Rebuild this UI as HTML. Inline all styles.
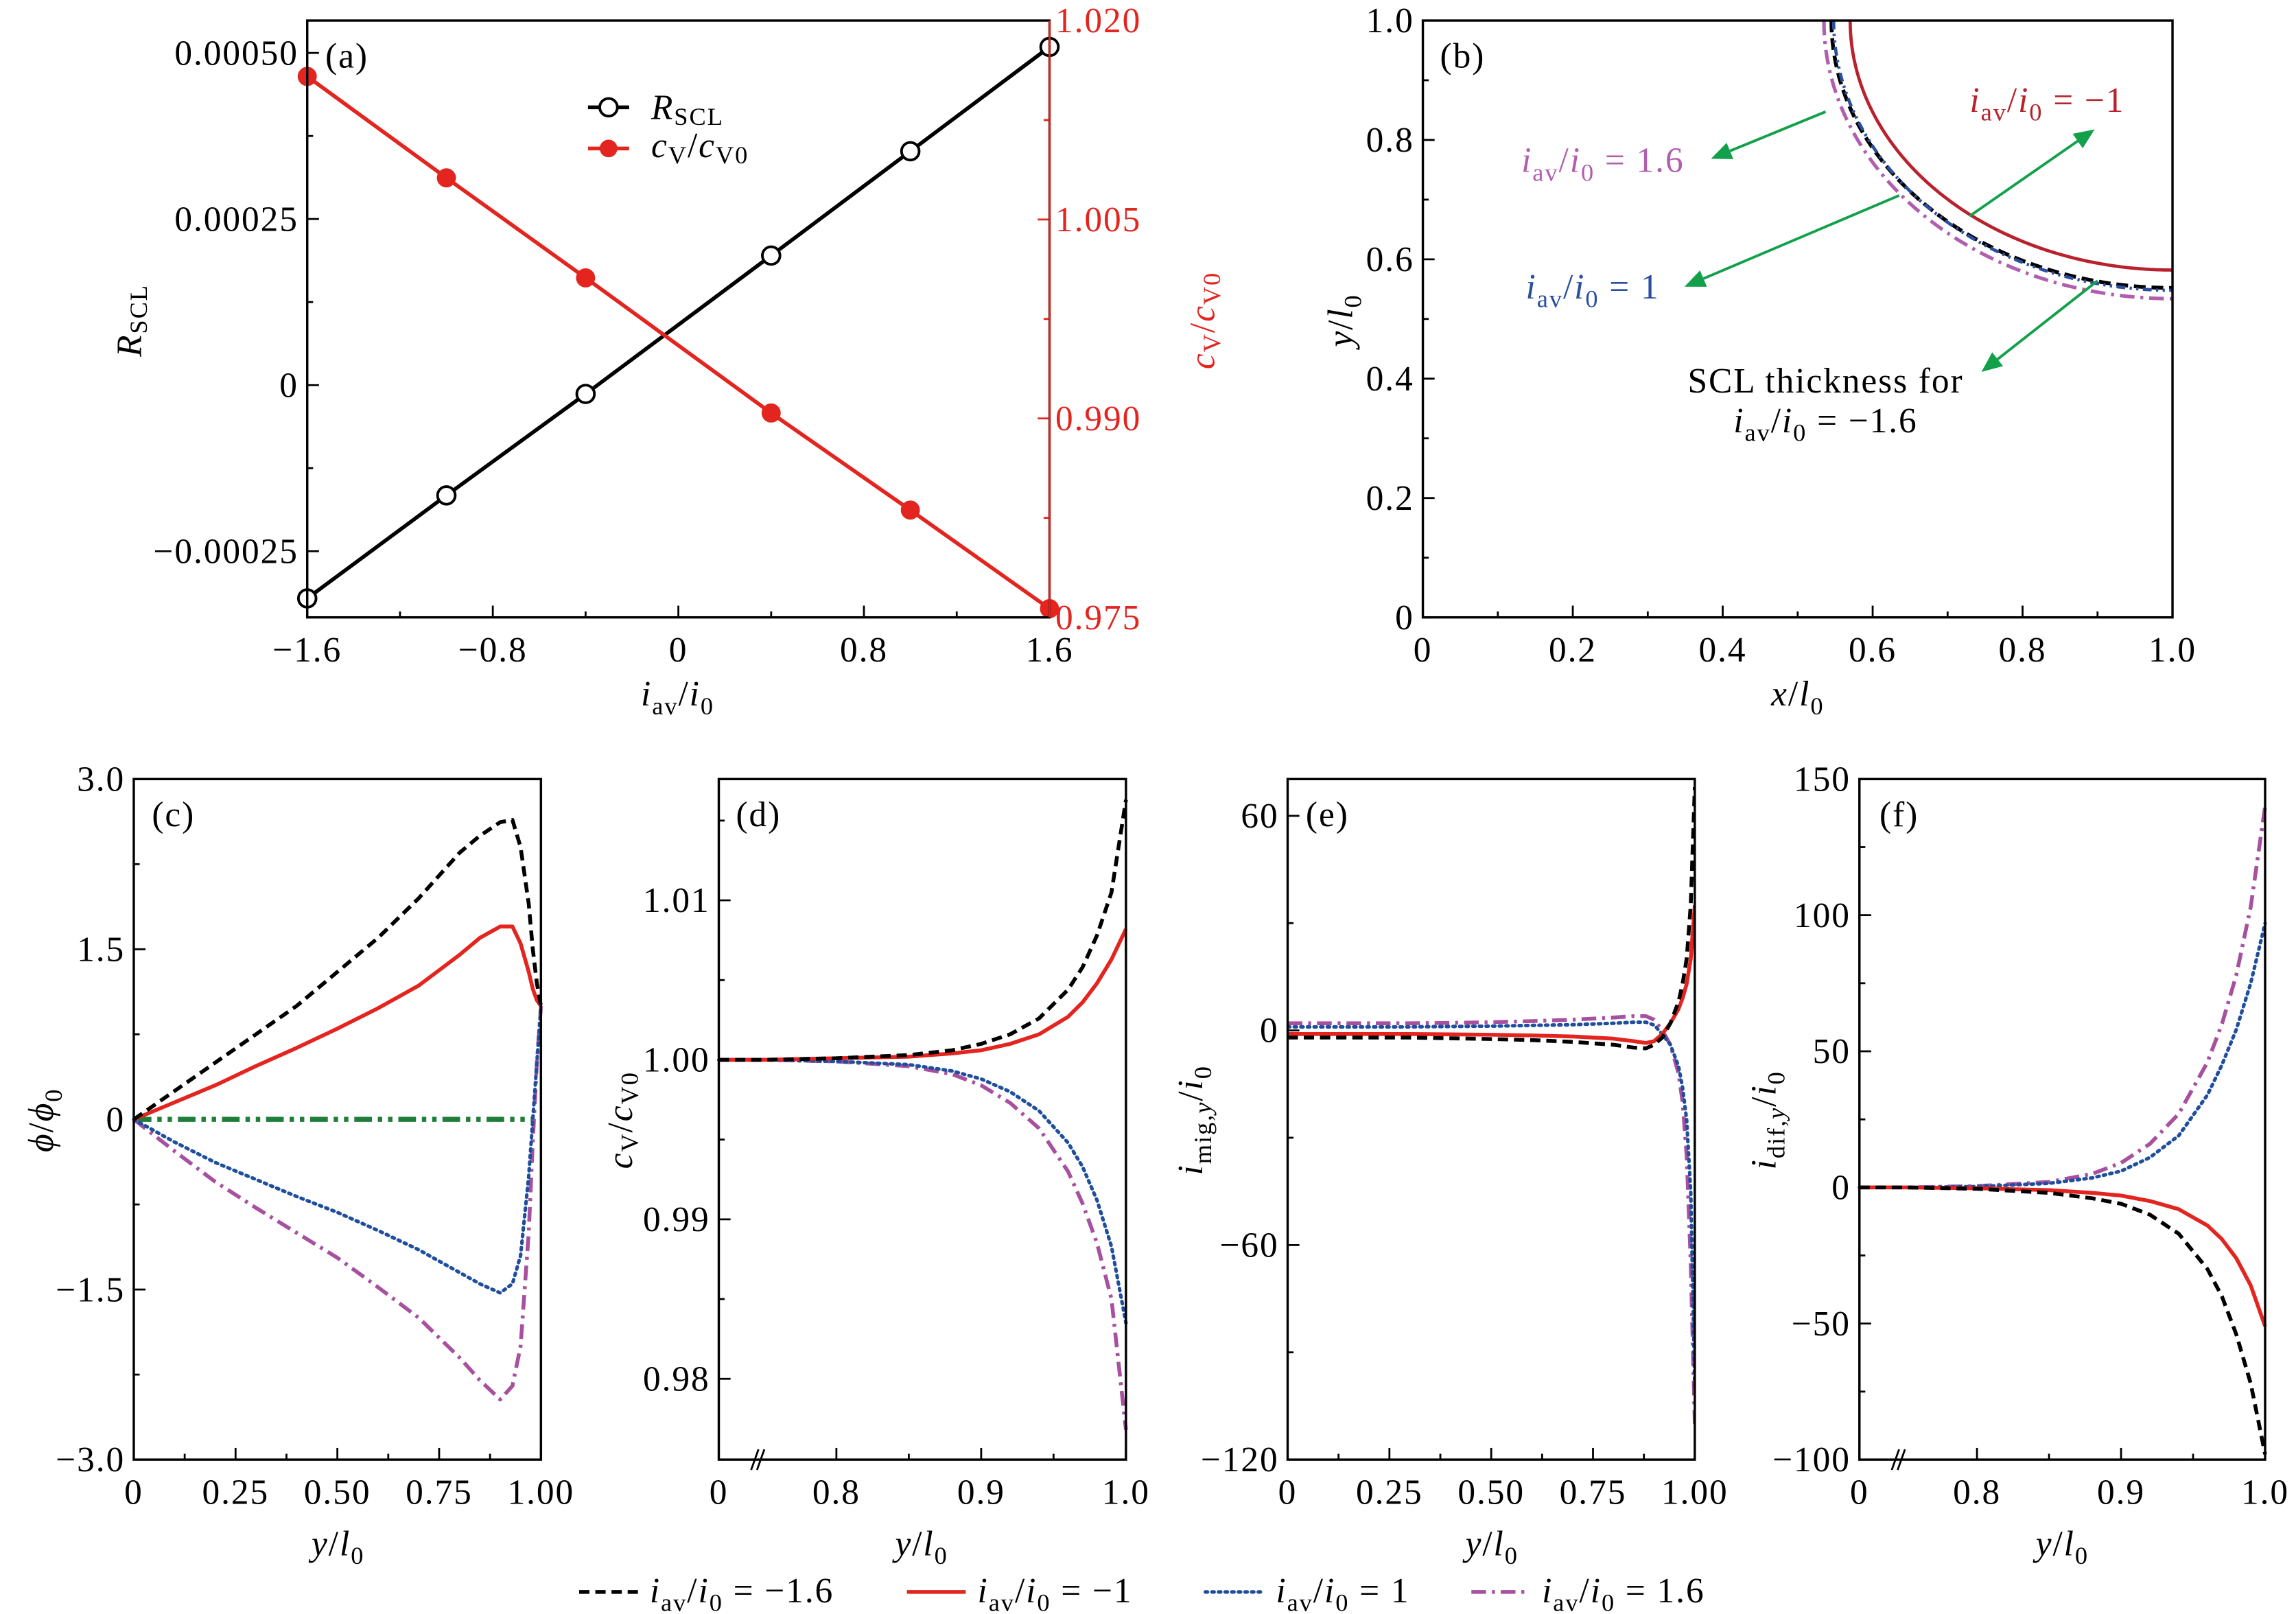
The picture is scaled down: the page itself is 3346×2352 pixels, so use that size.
<!DOCTYPE html>
<html><head><meta charset="utf-8">
<style>
html,body{margin:0;padding:0;background:#fff;}
svg{display:block;font-family:"Liberation Serif",serif;}
text{font-size:24px;letter-spacing:0.9px;}
.it{font-style:italic;}
</style></head>
<body>
<svg id="fig" width="3346" height="2352" viewBox="0 0 1562 1098" xmlns="http://www.w3.org/2000/svg">
<g id="layer"></g>
</svg>
<script>
// ---------- DATA ----------
// panel a
const aX = [-1.6, -1, -0.4, 0.4, 1, 1.6];
const aR = [-0.000321, -0.000166, -0.0000133, 0.000195, 0.000352, 0.000509];
const aC = [1.01579, 1.00814, 1.0006, 0.99041, 0.98309, 0.97566];
const aXTicks = [-1.6, -0.8, 0, 0.8, 1.6];
const aXTickLabels = ["\u22121.6", "\u22120.8", "0", "0.8", "1.6"];
const aLTicks = [0.0005, 0.00025, 0, -0.00025];
const aLTickLabels = ["0.00050", "0.00025", "0", "\u22120.00025"];
const aRTicks = [1.02, 1.005, 0.99, 0.975];
const aRTickLabels = ["1.020", "1.005", "0.990", "0.975"];
// panel b: quarter-ellipse radii around (1,1)
const bNames = ["minus16", "minus1", "plus1", "plus16"];
const bRx = [0.455, 0.430, 0.452, 0.465];
const bRy = [0.448, 0.418, 0.452, 0.466];
const bTicks = [0, 0.2, 0.4, 0.6, 0.8, 1.0];
const bTickLabels = ["0", "0.2", "0.4", "0.6", "0.8", "1.0"];
// panel c
const cX = [0, 0.1, 0.2, 0.3, 0.4, 0.5, 0.6, 0.7, 0.8, 0.85, 0.9, 0.93, 0.95, 0.97, 0.98, 0.99, 1.0];
const cM16 = [0, 0.25, 0.5, 0.75, 1.0, 1.3, 1.6, 1.95, 2.35, 2.5, 2.62, 2.64, 2.4, 1.9, 1.5, 1.2, 1.0];
const cM1 = [0, 0.15, 0.3, 0.47, 0.63, 0.8, 0.98, 1.18, 1.45, 1.6, 1.7, 1.7, 1.55, 1.3, 1.15, 1.05, 1.0];
const cP1 = [0, -0.2, -0.38, -0.53, -0.68, -0.82, -0.98, -1.15, -1.35, -1.45, -1.53, -1.45, -1.2, -0.5, 0, 0.5, 1.0];
const cP16 = [0, -0.28, -0.55, -0.78, -1.0, -1.22, -1.48, -1.75, -2.1, -2.3, -2.47, -2.35, -2.0, -1.0, -0.2, 0.5, 1.0];
const cZeroX = [0, 0.98];
const cZeroY = [0, 0];
const cXTicks = [0, 0.25, 0.5, 0.75, 1.0];
const cXTickLabels = ["0", "0.25", "0.50", "0.75", "1.00"];
const cYTicks = [3, 1.5, 0, -1.5, -3];
const cYTickLabels = ["3.0", "1.5", "0", "\u22121.5", "\u22123.0"];
// panel d
const dX = [0, 0.75, 0.8, 0.85, 0.88, 0.9, 0.92, 0.94, 0.96, 0.97, 0.98, 0.99, 1.0];
const dM16 = [1.0, 1.0, 1.0001, 1.0003, 1.0006, 1.001, 1.0016, 1.0026, 1.0044, 1.0058, 1.0078, 1.0105, 1.0163];
const dM1 = [1.0, 1.0, 1.0001, 1.0002, 1.0004, 1.0006, 1.001, 1.0016, 1.0027, 1.0036, 1.0048, 1.0063, 1.0082];
const dP1 = [1.0, 1.0, 0.9999, 0.9997, 0.9993, 0.9988, 0.998, 0.9968, 0.9948, 0.9933, 0.9912, 0.9883, 0.9835];
const dP16 = [1.0, 1.0, 0.9999, 0.9996, 0.9991, 0.9984, 0.9973, 0.9957, 0.993, 0.991, 0.9885, 0.985, 0.9768];
const dXTicks = [0, 0.8, 0.9, 1.0];
const dXTickLabels = ["0", "0.8", "0.9", "1.0"];
const dYTicks = [1.01, 1.0, 0.99, 0.98];
const dYTickLabels = ["1.01", "1.00", "0.99", "0.98"];
// panel e
const eX = [0, 0.1, 0.2, 0.3, 0.4, 0.5, 0.6, 0.7, 0.8, 0.85, 0.88, 0.9, 0.92, 0.94, 0.96, 0.97, 0.98, 0.99, 1.0];
const eM16 = [-2, -2, -2, -2, -2.2, -2.4, -2.7, -3.2, -4, -4.8, -5, -4, -2, 2, 8, 13, 20, 35, 68];
const eM1 = [-1, -1, -1, -1, -1.1, -1.2, -1.4, -1.7, -2.3, -3, -3.5, -3, -1, 2, 6, 9, 13, 20, 35];
const eP1 = [1, 1, 1, 1, 1.1, 1.2, 1.4, 1.6, 2, 2.3, 2.3, 1.5, -1, -4, -10, -16, -25, -45, -100];
const eP16 = [2, 2, 2, 2, 2.1, 2.3, 2.6, 3, 3.6, 4, 4, 3, 0, -4, -12, -20, -35, -65, -110];
const eXTicks = [0, 0.25, 0.5, 0.75, 1.0];
const eXTickLabels = ["0", "0.25", "0.50", "0.75", "1.00"];
const eYTicks = [60, 0, -60, -120];
const eYTickLabels = ["60", "0", "\u221260", "\u2212120"];
// panel f
const fX = [0, 0.75, 0.8, 0.85, 0.88, 0.9, 0.92, 0.94, 0.96, 0.97, 0.98, 0.99, 1.0];
const fM16 = [0, 0, -0.5, -2, -4, -6, -10, -17, -30, -40, -54, -72, -98];
const fM1 = [0, 0, -0.3, -1, -2, -3, -5, -8, -14, -19, -26, -36, -51];
const fP1 = [0, 0, 0.3, 1.5, 3.5, 6, 11, 19, 34, 45, 58, 75, 97];
const fP16 = [0, 0, 0.5, 2, 5, 9, 16, 27, 46, 60, 78, 103, 140];
const fXTicks = [0, 0.8, 0.9, 1.0];
const fXTickLabels = ["0", "0.8", "0.9", "1.0"];
const fYTicks = [150, 100, 50, 0, -50, -100];
const fYTickLabels = ["150", "100", "50", "0", "\u221250", "\u2212100"];

// ---------- HELPERS ----------
const NS = "http://www.w3.org/2000/svg";
const layer = document.getElementById("layer");
function el(tag, attrs, parent) {
  const e = document.createElementNS(NS, tag);
  for (const k in attrs) e.setAttribute(k, attrs[k]);
  (parent || layer).appendChild(e);
  return e;
}
function txt(x, y, html, name, opts) {
  opts = opts || {};
  const t = el("text", {x: x, y: y, "text-anchor": opts.anchor || "middle", fill: opts.fill || "#000"});
  if (opts.rot) t.setAttribute("transform", "rotate(-90 " + x + " " + y + ")");
  if (opts.size) t.setAttribute("font-size", opts.size);
  t.innerHTML = html;
  
  
  return t;
}
function lin(d0, d1, p0, p1) { return v => p0 + (v - d0) * (p1 - p0) / (d1 - d0); }
function box(P, name) {
  const r = el("rect", {x: P.x0, y: P.y0, width: P.x1 - P.x0, height: P.y1 - P.y0, fill: "none", stroke: "#000", "stroke-width": 1.6});
  
  
}
function tick(x1, y1, x2, y2, color, name) {
  const l = el("line", {x1: x1, y1: y1, x2: x2, y2: y2, stroke: color || "#000", "stroke-width": 1.3});
  
  
}
function xTicks(P, sx, ticks, labels, minors, name) {
  ticks.forEach((v, i) => {
    tick(sx(v), P.y1, sx(v), P.y1 - 8, "#000", name + "-tick");
    txt(sx(v), P.y1 + 30, labels[i], name + "-tick-label");
  });
  (minors || []).forEach(v => tick(sx(v), P.y1, sx(v), P.y1 - 4, "#000", name + "-minor-tick"));
}
function yTicks(P, sy, ticks, labels, minors, name) {
  ticks.forEach((v, i) => {
    tick(P.x0, sy(v), P.x0 + 8, sy(v), "#000", name + "-tick");
    txt(P.x0 - 6, sy(v) + 8, labels[i], name + "-tick-label", {anchor: "end"});
  });
  (minors || []).forEach(v => tick(P.x0, sy(v), P.x0 + 4, sy(v), "#000", name + "-minor-tick"));
}
function series(xs, ys, sx, sy, style, name) {
  const d = xs.map((x, i) => (i ? "L" : "M") + sx(x).toFixed(2) + "," + sy(ys[i]).toFixed(2)).join("");
  const p = el("path", Object.assign({d: d, fill: "none", "stroke-linejoin": "round"}, style));
  
  
  return p;
}
const ST = {
  m16: {stroke: "#000", "stroke-width": 2.6, "stroke-dasharray": "7,4"},
  m1: {stroke: "#e3241f", "stroke-width": 2.6},
  p1: {stroke: "#1f4e9c", "stroke-width": 2.4, "stroke-dasharray": "1.5,3", "stroke-linecap": "round"},
  p16: {stroke: "#a7509f", "stroke-width": 2.6, "stroke-dasharray": "10,4,2,4"}
};
const IAV = '<tspan class="it">i</tspan><tspan font-size="17" dy="6">av</tspan><tspan dy="-6">/</tspan><tspan class="it">i</tspan><tspan font-size="17" dy="6">0</tspan><tspan dy="-6">';

// ---------- PANEL A ----------
(function () {
  const P = {x0: 209, x1: 714, y0: 14, y1: 420};
  const sx = lin(-1.6, 1.6, P.x0, P.x1);
  const sy = lin(0, 0.00025, 262, 149);
  const sr = lin(0.975, 1.02, P.y1, P.y0);
  xTicks(P, sx, aXTicks, aXTickLabels, [-1.2, -0.4, 0.4, 1.2], "panel-a-x");
  yTicks(P, sy, aLTicks, aLTickLabels, [0.000375, 0.000125, -0.000125], "panel-a-left-y");
  aRTicks.forEach((v, i) => {
    tick(P.x1, sr(v), P.x1 - 8, sr(v), "#e3241f", "panel-a-right-y-tick");
    txt(P.x1 + 4, sr(v) + 8, aRTickLabels[i], "panel-a-right-y-tick-label", {anchor: "start", fill: "#e3241f"});
  });
  [1.0125, 0.9975, 0.9825].forEach(v => tick(P.x1, sr(v), P.x1 - 4, sr(v), "#e3241f", "panel-a-right-minor-tick"));
  series(aX, aR, sx, sy, {stroke: "#000", "stroke-width": 2.6}, "panel-a-rscl-line");
  series(aX, aC, sx, sr, {stroke: "#e3241f", "stroke-width": 2.6}, "panel-a-cv-line");
  aX.forEach((x, i) => {
    const c1 = el("circle", {cx: sx(x), cy: sy(aR[i]), r: 6, fill: "#fff", stroke: "#000", "stroke-width": 1.8});
    
    
    const c2 = el("circle", {cx: sx(x), cy: sr(aC[i]), r: 6, fill: "#e3241f", stroke: "#e3241f"});
    
    
  });
  box(P, "panel-a-frame");
  tick(P.x1, P.y0, P.x1, P.y1, "#e3241f", "panel-a-right-axis");
  txt(236, 46, "(a)", "panel-a-tag");
  const ly1 = 73, ly2 = 101;
  let l = el("line", {x1: 400, y1: ly1, x2: 428, y2: ly1, stroke: "#000", "stroke-width": 2.6});
  
  
  l = el("line", {x1: 400, y1: ly2, x2: 428, y2: ly2, stroke: "#e3241f", "stroke-width": 2.6});
  
  
  let c = el("circle", {cx: 414, cy: ly1, r: 6, fill: "#fff", stroke: "#000", "stroke-width": 1.8});
  
  
  c = el("circle", {cx: 414, cy: ly2, r: 6, fill: "#e3241f"});
  
  
  txt(443, ly1 + 8, '<tspan class="it">R</tspan><tspan font-size="17" dy="4">SCL</tspan>', "legend-a-rscl-label", {anchor: "start"});
  txt(443, ly2 + 6, '<tspan class="it">c</tspan><tspan font-size="17" dy="4">V</tspan><tspan dy="-4">/</tspan><tspan class="it">c</tspan><tspan font-size="17" dy="4">V0</tspan>', "legend-a-cv-label", {anchor: "start"});
  txt(461, 480, IAV + '</tspan>', "panel-a-x-title");
  txt(96, 218, '<tspan class="it">R</tspan><tspan font-size="17" dy="4">SCL</tspan>', "panel-a-left-y-title", {rot: true});
  txt(826, 218, '<tspan class="it">c</tspan><tspan font-size="17" dy="4">V</tspan><tspan dy="-4">/</tspan><tspan class="it">c</tspan><tspan font-size="17" dy="4">V0</tspan>', "panel-a-right-y-title", {rot: true, fill: "#e3241f"});
})();

// ---------- PANEL B ----------
(function () {
  const P = {x0: 968, x1: 1478, y0: 14, y1: 420};
  const sx = lin(0, 1, P.x0, P.x1);
  const sy = lin(0, 1, P.y1, P.y0);
  xTicks(P, sx, bTicks, bTickLabels, [0.1, 0.3, 0.5, 0.7, 0.9], "panel-b-x");
  yTicks(P, sy, bTicks, bTickLabels, [0.1, 0.3, 0.5, 0.7, 0.9], "panel-b-y");
  const bStyles = [
    {stroke: "#000", "stroke-width": 2.6, "stroke-dasharray": "8,4"},
    {stroke: "#b8222d", "stroke-width": 2.2},
    {stroke: "#2b4fa0", "stroke-width": 2.2, "stroke-dasharray": "6,3,1.5,3,1.5,3"},
    {stroke: "#b05fae", "stroke-width": 2.4, "stroke-dasharray": "10,4,2,4"}
  ];
  const ang = [];
  for (let k = 0; k <= 60; k++) ang.push(k * Math.PI / 120);
  bRx.forEach((rx, j) => {
    const xs = ang.map(a => 1 - rx * Math.cos(a));
    const ys = ang.map(a => 1 - bRy[j] * Math.sin(a));
    series(xs, ys, sx, sy, bStyles[j], "panel-b-boundary-" + bNames[j]);
  });
  box(P, "panel-b-frame");
  txt(995, 46, "(b)", "panel-b-tag");
  const arrows = [[1242, 76, 1164, 108], [1292, 133, 1146, 195], [1340, 147, 1425, 88], [1427, 191, 1348, 253]];
  const anames = ["arrow-plus16", "arrow-plus1", "arrow-minus1", "arrow-scl"];
  arrows.forEach((a, i) => {
    const [x1, y1, x2, y2] = a;
    const ang2 = Math.atan2(y2 - y1, x2 - x1);
    const L = 14, W = 6;
    const bx = x2 - L * Math.cos(ang2), by = y2 - L * Math.sin(ang2);
    const g = el("g", {});
    
    
    el("line", {x1: x1, y1: y1, x2: bx, y2: by, stroke: "#12a04a", "stroke-width": 1.8}, g);
    el("polygon", {points: [x2, y2, bx - W * Math.sin(ang2), by + W * Math.cos(ang2), bx + W * Math.sin(ang2), by - W * Math.cos(ang2)].join(","), fill: "#12a04a"}, g);
  });
  txt(1035, 117, IAV + ' = 1.6</tspan>', "label-plus16", {anchor: "start", fill: "#b05fae"});
  txt(1038, 203, IAV + ' = 1</tspan>', "label-plus1", {anchor: "start", fill: "#2b4fa0"});
  txt(1340, 76, IAV + ' = \u22121</tspan>', "label-minus1", {anchor: "start", fill: "#b8222d"});
  txt(1242, 267, "SCL thickness for", "label-scl-line1");
  txt(1242, 294, IAV + ' = \u22121.6</tspan>', "label-scl-line2");
  txt(1223, 480, '<tspan class="it">x</tspan>/<tspan class="it">l</tspan><tspan font-size="17" dy="6">0</tspan>', "panel-b-x-title");
  txt(920, 218, '<tspan class="it">y</tspan>/<tspan class="it">l</tspan><tspan font-size="17" dy="6">0</tspan>', "panel-b-y-title", {rot: true});
})();

// ---------- BOTTOM PANELS ----------
const YL = '<tspan class="it">y</tspan>/<tspan class="it">l</tspan><tspan font-size="17" dy="6">0</tspan>';
function brokenX(P) {
  const f = lin(0.8, 1.0, P.x0 + 80, P.x1);
  return v => v <= 0.75 ? P.x0 + (f(0.75) - P.x0) * (v / 0.75) : f(v);
}
// (c)
(function () {
  const P = {x0: 91, x1: 368, y0: 530, y1: 993};
  const sx = lin(0, 1, P.x0, P.x1);
  const sy = lin(-3, 3, P.y1, P.y0);
  xTicks(P, sx, cXTicks, cXTickLabels, [0.125, 0.375, 0.625, 0.875], "panel-c-x");
  yTicks(P, sy, cYTicks, cYTickLabels, [2.25, 0.75, -0.75, -2.25], "panel-c-y");
  series(cZeroX, cZeroY, sx, sy, {stroke: "#1e7e3a", "stroke-width": 3.4, "stroke-dasharray": "12,4,3,4,3,4"}, "panel-c-zero-current");
  series(cX, cP16, sx, sy, ST.p16, "panel-c-plus16");
  series(cX, cP1, sx, sy, ST.p1, "panel-c-plus1");
  series(cX, cM1, sx, sy, ST.m1, "panel-c-minus1");
  series(cX, cM16, sx, sy, ST.m16, "panel-c-minus16");
  box(P, "panel-c-frame");
  txt(118, 562, "(c)", "panel-c-tag");
  txt(230, 1058, YL, "panel-c-x-title");
  txt(36, 762, '<tspan class="it">\u03d5</tspan>/<tspan class="it">\u03d5</tspan><tspan font-size="17" dy="6">0</tspan>', "panel-c-y-title", {rot: true});
})();
// (d)
(function () {
  const P = {x0: 489, x1: 766, y0: 530, y1: 993};
  const sx = brokenX(P);
  const sy = lin(0.98, 1.0, 938, 721);
  xTicks(P, sx, dXTicks, dXTickLabels, [0.85, 0.95], "panel-d-x");
  yTicks(P, sy, dYTicks, dYTickLabels, [1.015, 1.005, 0.995, 0.985], "panel-d-y");
  series(dX, dP16, sx, sy, ST.p16, "panel-d-plus16");
  series(dX, dP1, sx, sy, ST.p1, "panel-d-plus1");
  series(dX, dM1, sx, sy, ST.m1, "panel-d-minus1");
  series(dX, dM16, sx, sy, ST.m16, "panel-d-minus16");
  box(P, "panel-d-frame");
  tick(511, 1000, 516, 986, "#000", "panel-d-axis-break");
  tick(515, 1000, 520, 986, "#000", "panel-d-axis-break");
  txt(516, 562, "(d)", "panel-d-tag");
  txt(627, 1058, YL, "panel-d-x-title");
  txt(430, 762, '<tspan class="it">c</tspan><tspan font-size="17" dy="4">V</tspan><tspan dy="-4">/</tspan><tspan class="it">c</tspan><tspan font-size="17" dy="4">V0</tspan>', "panel-d-y-title", {rot: true});
})();
// (e)
(function () {
  const P = {x0: 876, x1: 1153, y0: 530, y1: 993};
  const sx = lin(0, 1, P.x0, P.x1);
  const sy = lin(-120, 60, P.y1, 555);
  xTicks(P, sx, eXTicks, eXTickLabels, [0.125, 0.375, 0.625, 0.875], "panel-e-x");
  yTicks(P, sy, eYTicks, eYTickLabels, [30, -30, -90], "panel-e-y");
  const clip = el("clipPath", {id: "clipE"});
  el("rect", {x: P.x0, y: P.y0, width: P.x1 - P.x0, height: P.y1 - P.y0}, clip);
  [[eP16, ST.p16, "panel-e-plus16"], [eP1, ST.p1, "panel-e-plus1"], [eM1, ST.m1, "panel-e-minus1"], [eM16, ST.m16, "panel-e-minus16"]].forEach(s => {
    series(eX, s[0], sx, sy, s[1], s[2]).setAttribute("clip-path", "url(#clipE)");
  });
  box(P, "panel-e-frame");
  txt(903, 562, "(e)", "panel-e-tag");
  txt(1015, 1058, YL, "panel-e-x-title");
  txt(818, 762, '<tspan class="it">i</tspan><tspan font-size="17" dy="6">mig,<tspan class="it">y</tspan></tspan><tspan dy="-6">/</tspan><tspan class="it">i</tspan><tspan font-size="17" dy="6">0</tspan>', "panel-e-y-title", {rot: true});
})();
// (f)
(function () {
  const P = {x0: 1265, x1: 1541, y0: 530, y1: 993};
  const sx = brokenX(P);
  const sy = lin(-100, 150, P.y1, P.y0);
  xTicks(P, sx, fXTicks, fXTickLabels, [0.85, 0.95], "panel-f-x");
  yTicks(P, sy, fYTicks, fYTickLabels, [125, 75, 25, -25, -75], "panel-f-y");
  series(fX, fP16, sx, sy, ST.p16, "panel-f-plus16");
  series(fX, fP1, sx, sy, ST.p1, "panel-f-plus1");
  series(fX, fM1, sx, sy, ST.m1, "panel-f-minus1");
  series(fX, fM16, sx, sy, ST.m16, "panel-f-minus16");
  box(P, "panel-f-frame");
  tick(1287, 1000, 1292, 986, "#000", "panel-f-axis-break");
  tick(1291, 1000, 1296, 986, "#000", "panel-f-axis-break");
  txt(1292, 562, "(f)", "panel-f-tag");
  txt(1403, 1058, YL, "panel-f-x-title");
  txt(1208, 762, '<tspan class="it">i</tspan><tspan font-size="17" dy="6">dif,<tspan class="it">y</tspan></tspan><tspan dy="-6">/</tspan><tspan class="it">i</tspan><tspan font-size="17" dy="6">0</tspan>', "panel-f-y-title", {rot: true});
})();

// ---------- BOTTOM LEGEND ----------
(function () {
  const entries = [[394, ST.m16, ' = \u22121.6', "legend-minus16"], [617, ST.m1, ' = \u22121', "legend-minus1"], [820, ST.p1, ' = 1', "legend-plus1"], [1001, ST.p16, ' = 1.6', "legend-plus16"]];
  entries.forEach(e => {
    const l = el("line", Object.assign({x1: e[0], y1: 1083, x2: e[0] + 40, y2: 1083}, e[1]));
    
    
    txt(e[0] + 48, 1090, IAV + e[2] + '</tspan>', e[3] + '-label', {anchor: "start"});
  });
})();
</script>
</body></html>
